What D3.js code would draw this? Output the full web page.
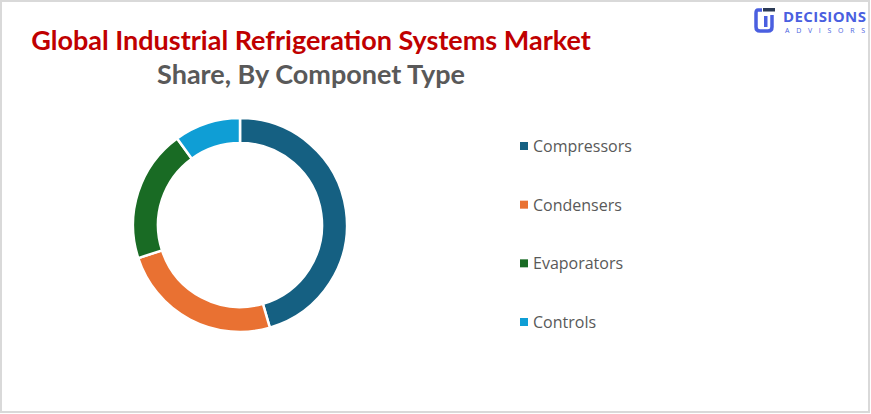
<!DOCTYPE html>
<html><head><meta charset="utf-8">
<script src="https://cdn.jsdelivr.net/npm/d3@7"></script>
<style>html,body{margin:0;padding:0;background:#fff;}svg{display:block;}</style>
</head><body>
<script>
const categories = ["Compressors", "Condensers", "Evaporators", "Controls"];
const shares = [45.5, 24.5, 20, 10];
const colors = ["#156082", "#E97132", "#196B24", "#0F9ED5"];
const titleLine1 = "Global Industrial Refrigeration Systems Market";
const titleLine2 = "Share, By Componet Type";

const W = 871, H = 414;
const svg = d3.select("body").append("svg").attr("width", W).attr("height", H);
svg.append("rect").attr("x", 1).attr("y", 1).attr("width", W - 3).attr("height", H - 3)
  .attr("fill", "#fff").attr("stroke", "#d9d9d9").attr("stroke-width", 2);

// titles
svg.append("text").attr("x", 311).attr("y", 50).attr("text-anchor", "middle")
  .attr("font-family", "Lato, 'Open Sans', sans-serif").attr("font-weight", "bold")
  .attr("font-size", 27).attr("fill", "#C00000").text(titleLine1);
svg.append("text").attr("x", 311).attr("y", 84).attr("text-anchor", "middle")
  .attr("font-family", "Lato, 'Open Sans', sans-serif").attr("font-weight", "bold")
  .attr("font-size", 27).attr("fill", "#595959").text(titleLine2);

// donut
const data = categories.map((c, i) => ({ cat: c, v: shares[i], color: colors[i] }));
const pie = d3.pie().value(d => d.v).sort(null);
const arc = d3.arc().innerRadius(82).outerRadius(107);
const g = svg.append("g").attr("transform", "translate(240,225)");
g.selectAll("path").data(pie(data)).join("path")
  .attr("d", arc).attr("fill", d => d.data.color)
  .attr("stroke", "#fff").attr("stroke-width", 2.5);

// legend
const leg = svg.append("g");
const ly = d3.scalePoint().domain(categories).range([146, 322]);
const items = leg.selectAll("g").data(data).join("g")
  .attr("transform", d => `translate(520,${ly(d.cat)})`);
items.append("rect").attr("x", 0).attr("y", -4).attr("width", 8).attr("height", 8)
  .attr("fill", d => d.color);
items.append("text").attr("x", 13).attr("y", 6)
  .attr("font-family", "'Open Sans', sans-serif").attr("font-size", 16)
  .attr("fill", "#595959").text(d => d.cat);

// logo
const logo = svg.append("g").attr("transform", "translate(756,7)");
logo.append("path").attr("d", "M6,3 L2,3 Q0,3 0,6 L0,20 Q0,24 4,24 L12,24 Q16,24 16,20 L16,8")
  .attr("fill", "none").attr("stroke", "#4a5fe0").attr("stroke-width", 3.5).attr("stroke-linejoin", "round");
logo.append("rect").attr("x", 7).attr("y", 1).attr("width", 12).attr("height", 3.5).attr("fill", "#2b3a55");
logo.append("rect").attr("x", 8).attr("y", 9).attr("width", 3.5).attr("height", 11).attr("fill", "#4a5fe0");
svg.append("text").attr("x", 783).attr("y", 22)
  .attr("font-family", "'Open Sans', sans-serif").attr("font-weight", "bold")
  .attr("font-size", 15).attr("fill", "#4a5fe0").attr("textLength", 83).text("DECISIONS");
svg.append("text").attr("x", 785).attr("y", 33)
  .attr("font-family", "'Open Sans', sans-serif")
  .attr("font-size", 7).attr("fill", "#4a5fe0").attr("textLength", 80).text("ADVISORS");
</script>
</body></html>
